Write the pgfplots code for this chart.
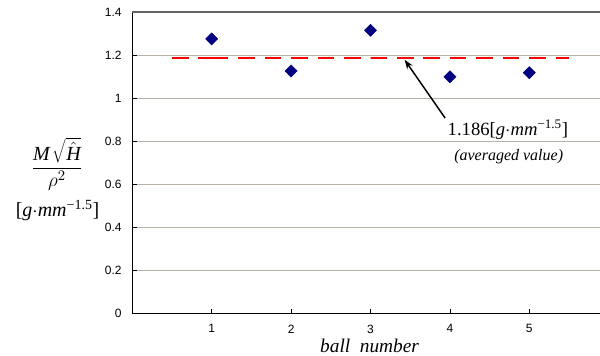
\documentclass[border=0pt]{standalone}
\usepackage{fontspec}
\setmainfont{Liberation Serif}
\newfontfamily\arial{Liberation Sans}
\usepackage{pgfplots}
\pgfplotsset{compat=1.18}
\usetikzlibrary{arrows.meta}
\definecolor{gridtan}{RGB}{184,178,168}
\definecolor{topgray}{RGB}{100,100,100}
\definecolor{navy}{RGB}{0,0,128}

\begin{document}
\begin{tikzpicture}
\begin{axis}[
  name=ax, at={(0,0)}, anchor=south west,
  scale only axis, width=350.8pt, height=226pt,
  xmin=0, xmax=5.89, ymin=0, ymax=1.4,
  axis x line*=bottom, axis y line*=left,
  axis line style={black, line width=1.1pt, -},
  xtick={1,2,3,4,5},
  ytick={0,0.2,0.4,0.6,0.8,1,1.2,1.4},
  ymajorgrids, grid style={gridtan, line width=0.8pt},
  tick align=inside, major tick length=3.5pt,
  tick style={black, line width=0.6pt},
  ticklabel style={font=\arial\fontsize{9pt}{11pt}\selectfont},
  yticklabel style={xshift=-4.5pt},
  xticklabel style={yshift=-5pt},
  /pgf/number format/assume math mode=true,
  /pgf/number format/fixed,
  clip=false,
]
% frame line along the top of the plot area
\draw[topgray, line width=1pt] (rel axis cs:0,1) -- (rel axis cs:1,1);

% averaged value, drawn segment by segment between the balls
\pgfplotsset{avgline/.style={red, line width=2pt, dash pattern=on 12.4pt off 7.45pt, forget plot}}
\addplot[avgline] coordinates {(0.5,1.186) (1,1.186)};
\addplot[avgline] coordinates {(1,1.186) (2,1.186)};
\addplot[avgline] coordinates {(2,1.186) (3,1.186)};
\addplot[avgline] coordinates {(3,1.186) (4,1.186)};
\addplot[avgline] coordinates {(4,1.186) (5,1.186)};
\addplot[avgline] coordinates {(5,1.186) (5.5,1.186)};

% measured values for each ball
\addplot[only marks, mark=square*, mark size=3.2pt,
  mark options={rotate=45, fill=navy, draw=navy}]
  coordinates {(1,1.275) (2,1.126) (3,1.315) (4,1.099) (5,1.118)};

\draw[-{Stealth[length=7pt,width=5pt]}, line width=1.1pt]
  (axis cs:3.94,0.907) -- (axis cs:3.43,1.178);
\node[font=\fontsize{14pt}{16pt}\selectfont] at (axis cs:4.73,0.852)
  {1.186[\textit{g}$\cdot$\textit{mm}\textsuperscript{−1.5}]};
\node[font=\fontsize{12pt}{14pt}\selectfont] at (axis cs:4.74,0.726)
  {\textit{(averaged value)}};
\end{axis}

% axis titles
\node[font=\fontsize{15pt}{17pt}\selectfont] at (-56.5pt,112pt)
  {$\displaystyle\frac{\textit{M}\,\sqrt{\hat{\textit{H}}}}{\rho^{2}}$};
\node[font=\fontsize{15pt}{17pt}\selectfont] at (-56pt,77pt)
  {[\textit{g}$\cdot$\textit{mm}\textsuperscript{−1.5}]};
\node[font=\fontsize{14.5pt}{17pt}\selectfont] at (178pt,-24.5pt)
  {\textit{ball\ \ number}};

\pgfresetboundingbox
\path (-99.2pt,-32pt) rectangle (350.8pt,235pt);
\end{tikzpicture}
\end{document}
